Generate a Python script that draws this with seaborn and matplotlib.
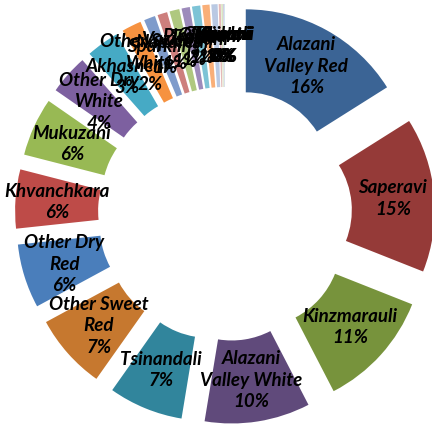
import matplotlib
matplotlib.use("Agg")
import matplotlib.pyplot as plt
import seaborn as sns

# ---- data ----
names = ["Alazani\nValley Red", "Saperavi", "Kinzmarauli", "Alazani\nValley White",
         "Tsinandali", "Other Sweet\nRed", "Other Dry\nRed", "Khvanchkara", "Mukuzani",
         "Other Dry\nWhite", "Akhasheni", "Other Sweet\nWhite", "Sparkling", "Napareuli",
         "Vazisubani", "Tvishi", "Pirosmani", "Ojaleshi", "Gurjaani", "Manavi",
         "Tibaani", "Kvareli", "Khikhvi"]
shares = [16.05, 14.95, 11.4, 10.2, 7.2, 7.3, 6.2, 5.7, 5.65, 3.85, 3.2, 1.9,
          1.1, 0.95, 0.95, 0.8, 0.8, 0.7, 0.6, 0.2, 0.15, 0.1, 0.05]
colors_hex = ["#3B6495", "#953A38", "#77933C", "#604A7B", "#31859C", "#C6782F",
              "#4A7EBB", "#BE4B48", "#98B954", "#7D60A0", "#46AAC5", "#F69240",
              "#7E9BCB", "#CD7F7D", "#AFC87F", "#9D8BBB", "#7DC3D6", "#F9AF78",
              "#B9C9E3", "#E4B8B7", "#D5E3BC", "#CCC1DA", "#B7DDE8"]

sns.set_theme(style="white")
plt.rcParams['font.family'] = ['Lato', 'DejaVu Sans']
palette = sns.color_palette(colors_hex)

total = sum(shares)
labels = [f"{n}\n{round(s / total * 100):.0f}%" for n, s in zip(names, shares)]

W, H = 432, 425
fig = plt.figure(figsize=(W / 100, H / 100), dpi=100)
ax = fig.add_axes([0, 0, 1, 1])

R_OUT = 167
RING = 83
EXPL = 43
ax.pie(shares, labels=labels, colors=palette, startangle=90, counterclock=False,
       radius=R_OUT, center=(225, 211), explode=[EXPL] * len(shares),
       labeldistance=(R_OUT - RING / 2) / R_OUT,
       wedgeprops=dict(width=RING, linewidth=0),
       textprops=dict(ha='center', va='center', multialignment='center',
                      fontsize=13.5, fontweight='bold', fontstyle='italic',
                      color='black', linespacing=1.32))
ax.set_xlim(0, W)
ax.set_ylim(0, H)
ax.set_aspect('equal')
ax.axis('off')
fig.savefig("out.png", dpi=100)
